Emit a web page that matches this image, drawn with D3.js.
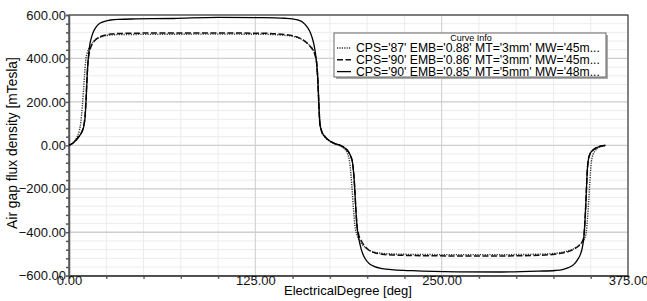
<!DOCTYPE html>
<html>
<head>
<meta charset="utf-8">
<script src="https://cdn.jsdelivr.net/npm/d3@7"></script>
<style>
  body { margin: 0; background: #fff; }
  text { font-family: "Liberation Sans", Arial, sans-serif; }
</style>
</head>
<body>
<script>
// flux density curves

var curveNames = [
    "CPS='87' EMB='0.88' MT='3mm' MW='45m...",
    "CPS='90' EMB='0.86' MT='3mm' MW='45m...",
    "CPS='90' EMB='0.85' MT='5mm' MW='48m..."
];

var xTicks = [0, 125, 250, 375];
var yTicks = [-600, -400, -200, 0, 200, 400, 600];

// CPS 87 (dotted)
var degA = [0, 3, 5.5, 7, 8, 8.8, 9.6, 10.4, 11.2, 12.2, 13.5, 15, 16.5, 18.5, 21, 24, 28, 35, 60, 100, 130, 145, 150,
    154, 157, 159.5, 161.5, 163, 164.3, 165.3, 166.2, 167, 167.6, 168.3, 169.5, 172, 175, 178.5, 182, 185, 187, 188.3,
    189.2, 190, 190.8, 191.8, 193.2, 195, 198, 201.5, 205, 210, 218, 230, 260, 290, 315, 326, 331, 335, 338.5, 341,
    343, 344.5, 345.8, 347, 347.8, 348.6, 349.4, 350.2, 351.2, 353, 355.5, 358, 360];
var fluxA = [0, 14, 40, 70, 110, 170, 240, 320, 390, 425, 448, 465, 478, 490, 498, 504, 508, 510, 511, 512, 511, 506, 502,
    494, 484, 472, 460, 448, 433, 412, 380, 300, 200, 110, 62, 35, 18, 6, -3, -18, -40, -80,
    -140, -210, -290, -370, -412, -440, -466, -483, -492, -497, -500, -502, -503, -503, -501, -497, -492, -485, -476, -466,
    -455, -445, -430, -400, -340, -260, -170, -90, -50, -25, -10, -3, 0];

// CPS 90, MT 3mm (dashed)
var degB = [0, 3, 6, 8.5, 10, 10.8, 11.4, 12, 12.6, 13.2, 14, 15, 16.5, 18.5, 21, 24, 28, 35, 60, 100, 130, 145, 150,
    154, 157, 159.5, 161.5, 163, 164.3, 165.3, 166.2, 167, 167.6, 168.3, 169.5, 172, 175, 178.5, 182, 185, 187.5, 189,
    190.2, 191, 191.7, 192.4, 193.2, 194.3, 196, 198.5, 201.5, 205, 210, 218, 230, 260, 290, 315, 326, 331, 335, 338.5,
    341, 343, 344.4, 345.4, 346.2, 346.9, 347.5, 348.3, 349.5, 351.5, 354, 357, 360];
var fluxB = [0, 12, 35, 60, 95, 140, 210, 300, 370, 410, 438, 458, 476, 490, 500, 507, 512, 515, 517, 517, 516, 510, 505,
    496, 485, 472, 458, 445, 430, 410, 375, 290, 190, 100, 65, 38, 20, 8, 0, -12, -30, -50,
    -80, -130, -200, -290, -370, -410, -438, -465, -484, -494, -501, -505, -507, -509, -509, -506, -501, -496, -489, -479,
    -468, -455, -442, -420, -340, -240, -140, -70, -40, -22, -10, -3, 0];

// CPS 90, MT 5mm (solid)
var degC = [0, 3, 6, 8.5, 10, 10.8, 11.4, 12, 12.6, 13.2, 14, 15, 16.5, 18.5, 21, 24, 28, 33, 45, 70, 100, 130, 145, 150,
    154, 157, 159.5, 161.5, 163, 164.3, 165.3, 166.2, 167, 167.6, 168.3, 169.5, 172, 175, 178.5, 182, 185, 187.5, 189,
    190.2, 191, 191.7, 192.4, 193.2, 194.3, 196, 198.5, 201.5, 205, 210, 218, 230, 260, 290, 315, 326, 331, 335, 338.5,
    341, 343, 344.4, 345.4, 346.2, 346.9, 347.5, 348.3, 349.5, 351.5, 354, 357, 360];
var fluxC = [0, 12, 35, 60, 90, 130, 200, 290, 370, 420, 465, 495, 525, 548, 563, 571, 577, 580, 582, 584, 589, 588, 585, 582,
    576, 566, 548, 525, 498, 465, 425, 370, 290, 190, 100, 65, 38, 20, 8, 0, -12, -30, -50,
    -80, -130, -200, -290, -370, -425, -478, -520, -545, -558, -567, -573, -577, -582, -583, -579, -576, -572, -563, -549,
    -528, -503, -470, -420, -340, -240, -140, -70, -40, -22, -10, -3, 0];

var width = 647,
    height = 301;

var svg = d3.select("body")
    .append("svg")
    .attr("width", width)
    .attr("height", height);

var x = d3.scaleLinear().domain([0, 375]).range([69, 628]);
var y = d3.scaleLinear().domain([-600, 600]).range([275.7, 15]);

//minor grid
svg.append("g")
    .selectAll("line")
    .data(d3.range(0, 376, 25))
    .enter().append("line")
    .attr("x1", function(d){ return x(d); })
    .attr("x2", function(d){ return x(d); })
    .attr("y1", y(600)).attr("y2", y(-600))
    .attr("stroke", "#ececec");

svg.append("g")
    .selectAll("line")
    .data(d3.range(-600, 601, 40))
    .enter().append("line")
    .attr("y1", function(d){ return y(d); })
    .attr("y2", function(d){ return y(d); })
    .attr("x1", x(0)).attr("x2", x(375))
    .attr("stroke", "#ececec");

//major grid
svg.append("g")
    .selectAll("line")
    .data(xTicks)
    .enter().append("line")
    .attr("x1", function(d){ return x(d); })
    .attr("x2", function(d){ return x(d); })
    .attr("y1", y(600)).attr("y2", y(-600))
    .attr("stroke", "#cfcfcf");

svg.append("g")
    .selectAll("line")
    .data(yTicks)
    .enter().append("line")
    .attr("y1", function(d){ return y(d); })
    .attr("y2", function(d){ return y(d); })
    .attr("x1", x(0)).attr("x2", x(375))
    .attr("stroke", "#cfcfcf")
    .attr("stroke-width", 1.3);

//frame
svg.append("rect")
    .attr("x", x(0)).attr("y", y(600))
    .attr("width", x(375) - x(0))
    .attr("height", y(-600) - y(600))
    .attr("fill", "none")
    .attr("stroke", "#222")
    .attr("stroke-width", 1);

//axes: minor ticks, then labels
var yMinor = d3.axisLeft(y).tickValues(d3.range(-600, 601, 40)).tickSize(3).tickFormat("");
var xMinor = d3.axisBottom(x).tickValues(d3.range(0, 376, 25)).tickSize(3).tickFormat("");

svg.append("g").attr("transform", "translate(" + x(0) + ",0)").call(yMinor)
    .call(function(g){ g.selectAll("path,line").attr("stroke", "#555").attr("stroke-width", 1.5); });
svg.append("g").attr("transform", "translate(0," + y(-600) + ")").call(xMinor)
    .call(function(g){ g.selectAll("path,line").attr("stroke", "#555").attr("stroke-width", 1.5); });

var yLab = d3.axisLeft(y).tickValues(yTicks).tickSize(0).tickPadding(3).tickFormat(d3.format(".2f"));
var xLab = d3.axisBottom(x).tickValues(xTicks).tickSize(0).tickPadding(0).tickFormat(d3.format(".2f"));

svg.append("g").attr("transform", "translate(" + x(0) + ",0)").call(yLab)
    .call(function(g){
        g.select(".domain").remove();
        g.selectAll("text").attr("font-size", 13).attr("fill", "#111")
            .style("font-family", "Liberation Sans, Arial, sans-serif");
    });
svg.append("g").attr("transform", "translate(0," + y(-600) + ")").call(xLab)
    .call(function(g){
        g.select(".domain").remove();
        g.selectAll("text").attr("font-size", 13).attr("fill", "#111")
            .style("font-family", "Liberation Sans, Arial, sans-serif");
    });

//axis titles
svg.append("text")
    .attr("x", 348).attr("y", 295)
    .attr("text-anchor", "middle")
    .attr("font-size", 13)
    .text("ElectricalDegree [deg]");

svg.append("text")
    .attr("transform", "translate(17,143) rotate(-90)")
    .attr("text-anchor", "middle")
    .attr("font-size", 13.8)
    .text("Air gap flux density [mTesla]");

//curves
var series = [
    { deg: degA, flux: fluxA, dash: "1.2,1.2", color: "#333", w: 1.4 },
    { deg: degB, flux: fluxB, dash: "6,2.5", color: "#111", w: 1.5 },
    { deg: degC, flux: fluxC, dash: null, color: "#000", w: 1.3 }
];

var line = d3.line()
    .x(function(d){ return x(d[0]); })
    .y(function(d){ return y(d[1]); })
    .curve(d3.curveMonotoneX);

series.forEach(function(s){
    svg.append("path")
        .datum(d3.zip(s.deg, s.flux))
        .attr("d", line)
        .attr("fill", "none")
        .attr("stroke", s.color)
        .attr("stroke-width", s.w)
        .attr("stroke-dasharray", s.dash);
});

//legend
var lg = svg.append("g");
lg.append("rect")
    .attr("x", 336).attr("y", 35).attr("width", 272).attr("height", 44)
    .attr("fill", "#aaa");
lg.append("rect")
    .attr("x", 334).attr("y", 33).attr("width", 272).attr("height", 44)
    .attr("fill", "#fff").attr("stroke", "#666");
lg.append("text")
    .attr("x", 471).attr("y", 40.5)
    .attr("text-anchor", "middle")
    .attr("font-size", 9)
    .text("Curve Info");

curveNames.forEach(function(n, i){
    var yy = 48 + i * 11.8;
    lg.append("line")
        .attr("x1", 337).attr("x2", 351)
        .attr("y1", yy).attr("y2", yy)
        .attr("stroke", series[i].color)
        .attr("stroke-width", series[i].w)
        .attr("stroke-dasharray", series[i].dash);
    lg.append("text")
        .attr("x", 356).attr("y", yy + 4.2)
        .attr("font-size", 12.2)
        .text(n);
});
</script>
</body>
</html>
